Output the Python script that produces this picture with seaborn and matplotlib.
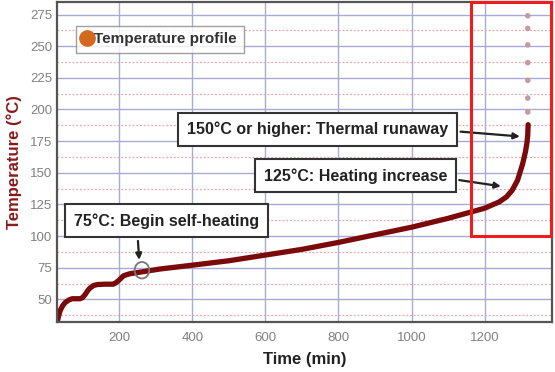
import numpy as np
import pandas as pd
import matplotlib
matplotlib.use("Agg")
import matplotlib.pyplot as plt
from matplotlib.lines import Line2D
from matplotlib.patches import Rectangle, Ellipse
import seaborn as sns

# Temperature profile
time_min = [30, 34, 38, 45, 52, 62, 71, 93, 100, 107, 114, 120, 130, 140, 160, 184, 190, 197,
            204, 211, 220, 230, 250, 266, 290, 312, 400, 500, 600, 700, 800, 900, 1000,
            1100, 1200, 1240, 1260, 1275, 1290, 1304, 1312, 1316, 1318, 1319]
temp_c = [32, 37, 41, 45, 47.5, 49.5, 50.5, 50.5, 51.5, 54, 57, 59, 61, 61.7, 62, 62, 63, 64.6,
          66.5, 68.5, 69.5, 70.3, 71.2, 71.9, 73, 74, 77, 80.5, 85, 89.5, 95, 101, 107,
          114, 122, 127, 131, 136, 144, 157, 167, 174, 180, 188]
# sparse points after runaway
dots_time = [1318, 1318, 1318, 1318, 1318, 1318, 1318]
dots_temp = [198, 209, 223, 237, 251, 264, 274]

df = pd.DataFrame({"time": time_min, "temp": temp_c})
dots = pd.DataFrame({"time": dots_time, "temp": dots_temp})

sns.set_style("white")
plt.rcParams["font.family"] = ["Liberation Sans", "DejaVu Sans"]

fig = plt.figure(figsize=(5.55, 3.72), dpi=100)
ax = fig.add_axes([0.103, 0.134, 0.892, 0.861])

# grid
ax.set_yticks(np.arange(50, 276, 25))
ax.set_yticks(np.arange(37.5, 285, 12.5), minor=True)
ax.set_xticks([200, 400, 600, 800, 1000, 1200])
ax.set_xticks([100, 300, 500, 700, 900, 1100, 1300], minor=True)
ax.grid(which="major", color="#a9a9d6", lw=1.0)
ax.grid(which="minor", axis="y", color="#eaa8a8", lw=0.9, ls=(0, (1.5, 1.5)))
ax.set_axisbelow(True)

sns.lineplot(data=df, x="time", y="temp", ax=ax, color="#7b0a0a", lw=3.8, legend=False)
sns.scatterplot(data=dots, x="time", y="temp", ax=ax, color="#c69aa2", s=16,
                edgecolor="none", legend=False)

ax.set_xlim(30, 1385)
ax.set_ylim(32, 285)

for s in ax.spines.values():
    s.set_color("#555555")
    s.set_linewidth(1.6)
ax.tick_params(which="both", direction="in", colors="#444444", labelcolor="#808080",
               labelsize=9.5, length=3, width=1)
ax.tick_params(which="minor", length=2)
ax.tick_params(axis="x", pad=7)

ax.set_xlabel("Time (min)", fontsize=12, fontweight="bold", color="#222222", labelpad=6)
ax.set_ylabel("Temperature (°C)", fontsize=12, fontweight="bold", color="#8b1a1a", labelpad=6)

# red zoom box
ax.add_patch(Rectangle((1162, 100), 221, 185, fill=False, edgecolor="#ee1c1c", lw=2.2,
                       clip_on=False, zorder=5))

# circle at self-heating point
ax.add_patch(Ellipse((262, 73), 40, 13, fill=False, edgecolor="#777777", lw=1.3, zorder=6))

box = dict(boxstyle="square,pad=0.55", fc="white", ec="#333333", lw=1.5)
arrow = dict(arrowstyle="-|>", color="#222222", lw=1.6, mutation_scale=9)

ax.annotate("75°C: Begin self-heating", xy=(255, 79), xytext=(330, 112),
            fontsize=11.5, fontweight="bold", color="#222222", ha="center", va="center",
            bbox=box, arrowprops=dict(arrow, relpos=(0.34, 0.0)))
ax.annotate("125°C: Heating increase", xy=(1252, 139), xytext=(846, 147.5),
            fontsize=11.5, fontweight="bold", color="#222222", ha="center", va="center",
            bbox=box, arrowprops=dict(arrow, relpos=(1.0, 0.35)))
ax.annotate("150°C or higher: Thermal runaway", xy=(1304, 178.5), xytext=(743, 184.5),
            fontsize=11.5, fontweight="bold", color="#222222", ha="center", va="center",
            bbox=box, arrowprops=dict(arrow, relpos=(1.0, 0.4)))

handle = Line2D([], [], marker="o", color="none", markerfacecolor="#d2691e",
                markeredgecolor="#d2691e", markersize=11)
leg = ax.legend([handle], ["Temperature profile"], loc="upper left",
                bbox_to_anchor=(0.022, 0.95), frameon=True, fancybox=False,
                handlelength=0.6, handletextpad=0.15, borderpad=0.45,
                prop={"size": 11, "weight": "bold"})
leg.get_frame().set_edgecolor("#888888")
leg.get_frame().set_linewidth(1.0)
for t in leg.get_texts():
    t.set_color("#333333")

fig.savefig("out.png", dpi=100)
